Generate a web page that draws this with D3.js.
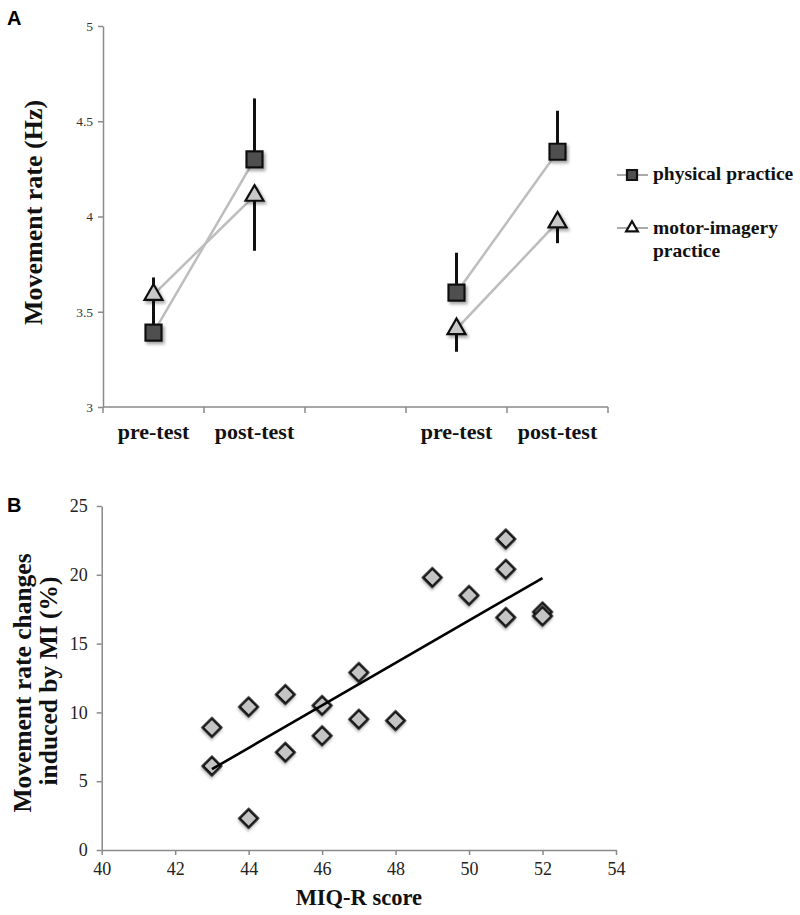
<!DOCTYPE html>
<html><head><meta charset="utf-8">
<script src="https://cdn.jsdelivr.net/npm/d3@7"></script>
<style>body{margin:0;background:#fff} svg{display:block}</style>
</head><body><svg id="c" width="800" height="915"></svg>
<script>
// ---------- Panel A data ----------
const categories = ["pre-test", "post-test", "", "pre-test", "post-test"];
const physical = [3.39, 4.30, null, 3.60, 4.34];
const physicalErr = [0.29, 0.32, null, 0.21, 0.215];
const motorImagery = [3.59, 4.11, null, 3.41, 3.97];
const motorImageryErr = [0.10, 0.29, null, 0.12, 0.11];
const yTicksA = [3, 3.5, 4, 4.5, 5];
const seriesNames = ["physical practice", "motor-imagery", "practice"];

// ---------- Panel B data ----------
const miqScore = [43, 43, 44, 44, 45, 45, 46, 46, 47, 47, 48, 49, 50, 51, 51, 51, 52, 52];
const rateChange = [8.9, 6.1, 10.4, 2.3, 11.3, 7.1, 10.5, 8.3, 12.9, 9.5, 9.4, 19.8, 18.5, 22.6, 20.4, 16.9, 17.3, 17.0];
const xTicksB = [40, 42, 44, 46, 48, 50, 52, 54];
const yTicksB = [0, 5, 10, 15, 20, 25];

const SERIF = "'Liberation Serif','Times New Roman',serif";
const SANS = "'Liberation Sans',Arial,sans-serif";
const AXIS = "#8a8a8a";

const svg = d3.select("#c");
const defs = svg.append("defs");
defs.append("filter").attr("id", "sh").attr("x", "-60%").attr("y", "-60%").attr("width", "220%").attr("height", "220%")
  .append("feDropShadow").attr("dx", 2).attr("dy", 2.5).attr("stdDeviation", 1.6)
  .attr("flood-color", "#000").attr("flood-opacity", 0.35);
defs.append("filter").attr("id", "sh2").attr("x", "-60%").attr("y", "-60%").attr("width", "220%").attr("height", "220%")
  .append("feDropShadow").attr("dx", 1.5).attr("dy", 2).attr("stdDeviation", 1.2)
  .attr("flood-color", "#000").attr("flood-opacity", 0.25);

function styleAxis(g, size, color) {
  g.attr("font-family", SERIF);
  g.select(".domain").attr("stroke", AXIS).attr("stroke-width", 1.5);
  g.selectAll(".tick line").attr("stroke", AXIS).attr("stroke-width", 1.5);
  g.selectAll(".tick text").attr("font-family", SERIF).attr("font-size", size).attr("fill", color);
}

// ================= Panel A =================
const idx = d3.range(categories.length);
const xA = d3.scaleBand().domain(idx).range([103, 608]);
const yA = d3.scaleLinear().domain([3, 5]).range([407, 26]);

// y axis
const gyA = svg.append("g").attr("transform", `translate(${xA.range()[0]},0)`)
  .call(d3.axisLeft(yA).tickValues(yTicksA).tickSize(5).tickPadding(5).tickSizeOuter(0).tickFormat(d => String(d)));
styleAxis(gyA, 13.5, "#333");

// x axis: labels at band centres, ticks at band boundaries
const gxA = svg.append("g").attr("transform", `translate(0,${yA(3)})`)
  .call(d3.axisBottom(xA).tickSize(0).tickPadding(16).tickSizeOuter(0).tickFormat(i => categories[i]));
gxA.select(".domain").attr("d", `M${xA.range()[0]},0H${xA.range()[1]}`);
styleAxis(gxA, 22, "#111");
gxA.selectAll(".tick text").attr("font-weight", "bold");
const bounds = idx.map(i => xA(i)).concat([xA.range()[1]]);
gxA.selectAll(".btick").data(bounds).join("line").attr("class", "btick")
  .attr("x1", d => d).attr("x2", d => d).attr("y1", 0).attr("y2", 6)
  .attr("stroke", AXIS).attr("stroke-width", 1.5);

// y title
svg.append("text").attr("transform", `translate(42,${(yA(3) + yA(5)) / 2 - 4}) rotate(-90)`)
  .attr("text-anchor", "middle").attr("font-family", SERIF).attr("font-weight", "bold")
  .attr("font-size", 26).attr("fill", "#111").text("Movement rate (Hz)");

const cx = i => xA(i) + xA.bandwidth() / 2;
const groups = [[0, 1], [3, 4]];

// connecting lines
const lineGen = d3.line().x(d => cx(d.i)).y(d => yA(d.v));
[physical, motorImagery].forEach(arr => {
  groups.forEach(gp => {
    svg.append("path").datum(gp.map(i => ({ i, v: arr[i] })))
      .attr("d", lineGen).attr("fill", "none").attr("stroke", "#bdbdbd").attr("stroke-width", 2.5);
  });
});

// error bars (physical upward, motor imagery downward)
const ebData = [];
idx.forEach(i => {
  if (physical[i] != null) ebData.push({ i, a: physical[i], b: physical[i] + physicalErr[i] });
  if (motorImagery[i] != null) ebData.push({ i, a: motorImagery[i], b: motorImagery[i] - motorImageryErr[i] });
});
svg.append("g").selectAll("line").data(ebData).join("line")
  .attr("x1", d => cx(d.i)).attr("x2", d => cx(d.i))
  .attr("y1", d => yA(d.a)).attr("y2", d => yA(d.b))
  .attr("stroke", "#111").attr("stroke-width", 3);

// markers
const sq = d3.symbol(d3.symbolSquare, 16 * 16);
const tri = d3.symbol(d3.symbolTriangle, 140);
svg.append("g").selectAll("path").data(idx.filter(i => motorImagery[i] != null)).join("path")
  .attr("d", tri).attr("transform", i => `translate(${cx(i)},${yA(motorImagery[i])})`)
  .attr("fill", "#c8c8c8").attr("stroke", "#111").attr("stroke-width", 2.2).attr("filter", "url(#sh)");
svg.append("g").selectAll("path").data(idx.filter(i => physical[i] != null)).join("path")
  .attr("d", sq).attr("transform", i => `translate(${cx(i)},${yA(physical[i])})`)
  .attr("fill", "#505050").attr("stroke", "#111").attr("stroke-width", 2.2).attr("filter", "url(#sh)");

// legend
const lg = svg.append("g");
[[175, "sq"], [228, "tri"]].forEach(([ly, kind]) => {
  lg.append("line").attr("x1", 617).attr("x2", 648).attr("y1", ly).attr("y2", ly)
    .attr("stroke", "#aaa").attr("stroke-width", 2);
  lg.append("path").attr("transform", `translate(632,${ly})`)
    .attr("d", kind === "sq" ? d3.symbol(d3.symbolSquare, 100)() : d3.symbol(d3.symbolTriangle, 60)())
    .attr("fill", kind === "sq" ? "#505050" : "#fff").attr("stroke", "#111").attr("stroke-width", 2.2);
});
[[180, seriesNames[0]], [234, seriesNames[1]], [257, seriesNames[2]]].forEach(([ty, t]) => {
  lg.append("text").attr("x", 653).attr("y", ty).attr("font-family", SERIF).attr("font-weight", "bold")
    .attr("font-size", 19.5).attr("fill", "#111").text(t);
});

// panel label
svg.append("text").attr("x", 7).attr("y", 25).attr("font-family", SANS).attr("font-weight", "bold")
  .attr("font-size", 20).attr("fill", "#000").text("A");

// ================= Panel B =================
const xB = d3.scaleLinear().domain([40, 54]).range([101.7, 616]);
const yB = d3.scaleLinear().domain([0, 25]).range([850, 506]);

const gyB = svg.append("g").attr("transform", `translate(${xB(40)},0)`)
  .call(d3.axisLeft(yB).tickValues(yTicksB).tickSize(5).tickPadding(9).tickSizeOuter(0));
styleAxis(gyB, 18, "#222");
const gxB = svg.append("g").attr("transform", `translate(0,${yB(0)})`)
  .call(d3.axisBottom(xB).tickValues(xTicksB).tickSize(5).tickPadding(7).tickSizeOuter(0));
styleAxis(gxB, 18, "#222");

// regression line (least squares from the data)
const mx = d3.mean(miqScore), my = d3.mean(rateChange);
let sxy = 0, sxx = 0;
miqScore.forEach((x, k) => { sxy += (x - mx) * (rateChange[k] - my); sxx += (x - mx) * (x - mx); });
const slope = sxy / sxx, icpt = my - slope * mx;
const [xmin, xmax] = d3.extent(miqScore);

// diamonds
const dia = d3.symbol(d3.symbolSquare, 165);
svg.append("g").selectAll("path").data(d3.range(miqScore.length)).join("path")
  .attr("d", dia).attr("transform", k => `translate(${xB(miqScore[k])},${yB(rateChange[k])}) rotate(45)`)
  .attr("fill", "#c4c4c4").attr("stroke", "#151515").attr("stroke-width", 2.6).attr("filter", "url(#sh2)");

svg.append("line").attr("x1", xB(xmin)).attr("y1", yB(slope * xmin + icpt))
  .attr("x2", xB(xmax)).attr("y2", yB(slope * xmax + icpt))
  .attr("stroke", "#000").attr("stroke-width", 2.6);

// titles
const ycB = (yB(0) + yB(25)) / 2 + 5;
svg.append("text").attr("transform", `translate(31,${ycB}) rotate(-90)`)
  .attr("text-anchor", "middle").attr("font-family", SERIF).attr("font-weight", "bold")
  .attr("font-size", 25.5).attr("fill", "#111").text("Movement rate changes");
svg.append("text").attr("transform", `translate(57,${ycB - 2}) rotate(-90)`)
  .attr("text-anchor", "middle").attr("font-family", SERIF).attr("font-weight", "bold")
  .attr("font-size", 25.5).attr("fill", "#111").text("induced by MI (%)");
svg.append("text").attr("x", (xB(40) + xB(54)) / 2).attr("y", 905)
  .attr("text-anchor", "middle").attr("font-family", SERIF).attr("font-weight", "bold")
  .attr("font-size", 22.5).attr("fill", "#111").text("MIQ-R score");

svg.append("text").attr("x", 7).attr("y", 512).attr("font-family", SANS).attr("font-weight", "bold")
  .attr("font-size", 20).attr("fill", "#000").text("B");
</script>
</body></html>
